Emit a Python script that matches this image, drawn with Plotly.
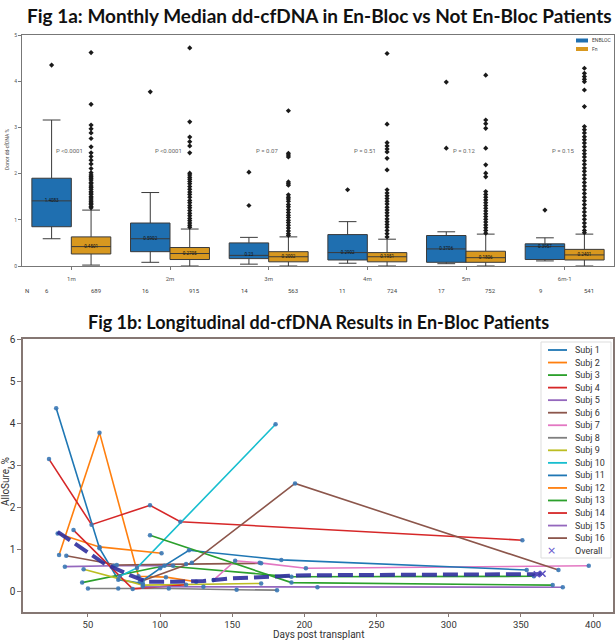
import plotly.graph_objects as go

W, H = 616, 640


def fx(p):
    return p / W


def fy(p):
    return 1 - p / H


# ---------------- Fig 1a data ----------------
months = ["1m", "2m", "3m", "4m", "5m", "6m-1"]

enbloc_q1 = [0.85, 0.31, 0.16, 0.13, 0.08, 0.14]
enbloc_med = [1.41, 0.59, 0.23, 0.29, 0.37, 0.42]
enbloc_q3 = [1.90, 0.93, 0.50, 0.68, 0.66, 0.48]
enbloc_lo = [0.59, 0.08, 0.04, 0.06, 0.05, 0.11]
enbloc_hi = [3.16, 1.59, 0.62, 0.96, 0.74, 0.61]
enbloc_lbl = ["1.4083", "0.5902", "0.23", "0.2902", "0.3706", "0.3957"]
enbloc_n = [6, 16, 14, 11, 17, 9]

fn_q1 = [0.26, 0.14, 0.09, 0.09, 0.08, 0.13]
fn_med = [0.42, 0.27, 0.20, 0.20, 0.18, 0.24]
fn_q3 = [0.63, 0.40, 0.31, 0.29, 0.32, 0.36]
fn_lo = [0.02, 0.0, 0.0, 0.0, 0.0, 0.0]
fn_hi = [1.21, 0.80, 0.63, 0.58, 0.69, 0.69]
fn_lbl = ["0.4501", "0.2705", "0.2002", "0.1951", "0.1806", "0.2401"]
fn_n = [689, 915, 563, 724, 752, 541]

p_values = ["P <0.0001", "P <0.0001", "P = 0.07", "P = 0.51", "P = 0.12", "P = 0.15"]

enbloc_out_1m = [4.35]
enbloc_out_2m = [3.77]
enbloc_out_3m = [2.03, 1.31]
enbloc_out_4m = [1.65]
enbloc_out_5m = [3.98, 2.55]
enbloc_out_6m = [1.21]

fn_out_1m = [4.62, 3.50, 3.05, 2.97, 2.88, 2.76, 2.58, 2.45, 2.37, 2.29, 2.21, 2.11, 2.02,
             1.97, 1.93, 1.90, 1.86, 1.81, 1.78, 1.73, 1.70, 1.66, 1.61, 1.58, 1.55, 1.50,
             1.47, 1.43, 1.39, 1.36, 1.33, 1.29, 1.26]
fn_out_2m = [4.72, 3.12, 2.79, 2.69, 2.60, 2.45, 2.01, 1.97, 1.92, 1.88, 1.83, 1.78, 1.72,
             1.66, 1.60, 1.55, 1.49, 1.42, 1.37, 1.31, 1.26, 1.20, 1.14, 1.09, 1.03, 0.98,
             0.93, 0.88, 0.84]
fn_out_3m = [3.36, 2.44, 2.40, 2.36, 1.82, 1.78, 1.75, 1.54, 1.49, 1.45, 1.40, 1.33, 1.28,
             1.22, 1.16, 1.10, 1.05, 0.99, 0.94, 0.88, 0.82, 0.76, 0.70, 0.66]
fn_out_4m = [4.60, 3.07, 2.67, 2.60, 2.53, 2.47, 2.33, 2.08, 1.65, 1.58, 1.52, 1.46, 1.40,
             1.34, 1.27, 1.21, 1.15, 1.09, 1.02, 0.96, 0.90, 0.84, 0.77, 0.70, 0.63]
fn_out_5m = [4.13, 3.16, 3.08, 2.98, 2.55, 2.19, 2.01, 1.93, 1.61, 1.55, 1.49, 1.43, 1.37,
             1.31, 1.25, 1.19, 1.13, 1.07, 1.01, 0.95, 0.89, 0.83, 0.77, 0.71]
fn_out_6m = [4.28, 4.17, 4.10, 4.04, 3.99, 3.81, 3.45, 3.02, 2.95, 2.88, 2.80, 2.73, 2.66,
             2.58, 2.50, 2.43, 2.36, 2.28, 2.20, 2.12, 2.05, 1.97, 1.89, 1.81, 1.73, 1.65,
             1.57, 1.49, 1.41, 1.33, 1.25, 1.17, 1.09, 1.01, 0.93, 0.85, 0.77, 0.72]

enbloc_outliers = [enbloc_out_1m, enbloc_out_2m, enbloc_out_3m, enbloc_out_4m, enbloc_out_5m, enbloc_out_6m]
fn_outliers = [fn_out_1m, fn_out_2m, fn_out_3m, fn_out_4m, fn_out_5m, fn_out_6m]

# ---------------- Fig 1b data ----------------
s1_x, s1_y = [28, 58, 71, 88], [4.35, 1.02, 0.27, 0.18]
s2_x, s2_y = [30, 58, 85, 104, 125], [0.86, 3.77, 0.35, 0.33, 0.22]
s3_x, s3_y = [46, 103, 191, 359], [0.20, 0.60, 0.34, 0.35]
s4_x, s4_y = [23, 52.5, 93, 114, 351], [3.14, 1.58, 2.04, 1.65, 1.21]
s5_x, s5_y = [34, 68, 109], [0.58, 0.60, 0.60]
s6_x, s6_y = [35, 70, 118, 170], [0.84, 0.62, 0.64, 0.66]
s7_x, s7_y = [137, 152, 169, 201, 397], [0.26, 0.72, 0.67, 0.54, 0.60]
s8_x, s8_y = [50, 71, 106, 153, 181], [0.06, 0.06, 0.06, 0.03, 0.02]
s9_x, s9_y = [47, 88, 170], [0.52, 0.14, 0.18]
s10_x, s10_y = [72, 84, 180], [0.35, 0.55, 3.97]
s11_x, s11_y = [88, 100, 120, 184, 354], [0.25, 0.54, 0.97, 0.74, 0.50]
s12_x, s12_y = [29, 58, 101], [1.37, 1.05, 0.90]
s13_x, s13_y = [93, 191, 372], [1.33, 0.20, 0.14]
s14_x, s14_y = [40, 81, 118], [1.45, 0.05, 0.15]
s15_x, s15_y = [88, 130, 209, 379], [0.10, 0.10, 0.09, 0.09]
s16_x, s16_y = [86, 122, 193.5, 376], [0.22, 0.67, 2.56, 0.50]

overall_x = [29, 44, 61, 79, 91, 110, 130, 150, 175, 195, 230, 270, 310, 340, 361, 365]
overall_y = [1.41, 1.05, 0.66, 0.38, 0.22, 0.22, 0.24, 0.30, 0.34, 0.37, 0.38, 0.38, 0.38, 0.39, 0.40, 0.41]
overall_mark_x = [361, 365]
overall_mark_y = [0.40, 0.41]

subjects = [(s1_x, s1_y), (s2_x, s2_y), (s3_x, s3_y), (s4_x, s4_y), (s5_x, s5_y), (s6_x, s6_y),
            (s7_x, s7_y), (s8_x, s8_y), (s9_x, s9_y), (s10_x, s10_y), (s11_x, s11_y),
            (s12_x, s12_y), (s13_x, s13_y), (s14_x, s14_y), (s15_x, s15_y), (s16_x, s16_y)]
subj_names = ["Subj %d" % (i + 1) for i in range(16)]
tab10 = ["#1f77b4", "#ff7f0e", "#2ca02c", "#d62728", "#9467bd", "#8c564b", "#e377c2",
         "#7f7f7f", "#bcbd22", "#17becf"]
subj_colors = [tab10[i % 10] for i in range(16)]

BLUE = "#1f6fb0"
ORANGE = "#d8981f"
EDGE = "#3a3a3a"
OFF = 0.2

fig = go.Figure()

# ---------- top: boxes ----------
fig.add_trace(go.Box(x=[i - OFF for i in range(6)], q1=enbloc_q1, median=enbloc_med, q3=enbloc_q3,
                     lowerfence=enbloc_lo, upperfence=enbloc_hi, width=0.4, whiskerwidth=0.45,
                     fillcolor=BLUE, line=dict(color=EDGE, width=1), boxpoints=False,
                     xaxis="x", yaxis="y", hoverinfo="skip"))
fig.add_trace(go.Box(x=[i + OFF for i in range(6)], q1=fn_q1, median=fn_med, q3=fn_q3,
                     lowerfence=fn_lo, upperfence=fn_hi, width=0.4, whiskerwidth=0.45,
                     fillcolor=ORANGE, line=dict(color=EDGE, width=1), boxpoints=False,
                     xaxis="x", yaxis="y", hoverinfo="skip"))

for i in range(6):
    for pos, outs in ((i - OFF, enbloc_outliers[i]), (i + OFF, fn_outliers[i])):
        fig.add_trace(go.Scatter(x=[pos] * len(outs), y=outs, mode="markers",
                                 marker=dict(symbol="diamond", size=4, color="#1a1a1a"),
                                 xaxis="x", yaxis="y", hoverinfo="skip"))

fig.add_trace(go.Scatter(x=[i - OFF for i in range(6)], y=enbloc_med, text=enbloc_lbl, mode="text",
                         textfont=dict(size=4.5, color="#111", family="Roboto"),
                         xaxis="x", yaxis="y", hoverinfo="skip"))
fig.add_trace(go.Scatter(x=[i + OFF for i in range(6)], y=fn_med, text=fn_lbl, mode="text",
                         textfont=dict(size=4.5, color="#111", family="Roboto"),
                         xaxis="x", yaxis="y", hoverinfo="skip"))

# p-values
for i, p in enumerate(p_values):
    fig.add_annotation(x=i - 0.02, y=2.5, xref="x", yref="y", text=p, showarrow=False,
                       font=dict(size=6, color="#666", family="Roboto"))

# N row
fig.add_annotation(x=fx(23), y=fy(290), xref="paper", yref="paper", text="N", showarrow=False,
                   yanchor="middle", font=dict(size=6, color="#444", family="Roboto"))
for i in range(6):
    fig.add_annotation(x=i - 0.25, y=fy(290), xref="x", yref="paper", text=str(enbloc_n[i]),
                       yanchor="middle", showarrow=False, font=dict(size=6, color="#444", family="Roboto"))
    fig.add_annotation(x=i + 0.25, y=fy(290), xref="x", yref="paper", text=str(fn_n[i]),
                       yanchor="middle", showarrow=False, font=dict(size=6, color="#444", family="Roboto"))

# ---------- bottom: lines ----------
for (xs, ys), c in zip(subjects, subj_colors):
    fig.add_trace(go.Scatter(x=xs, y=ys, mode="lines", line=dict(color=c, width=1.6),
                             xaxis="x2", yaxis="y2", hoverinfo="skip"))
all_x = [d for xs, _ in subjects for d in xs]
all_y = [v for _, ys in subjects for v in ys]
fig.add_trace(go.Scatter(x=all_x, y=all_y, mode="markers",
                         marker=dict(size=4.5, color="#3a78b5", opacity=0.9),
                         xaxis="x2", yaxis="y2", hoverinfo="skip"))
fig.add_trace(go.Scatter(x=overall_x, y=overall_y, mode="lines",
                         line=dict(color="#2f2f9e", width=4, dash="15px,6px"),
                         opacity=0.9, xaxis="x2", yaxis="y2", hoverinfo="skip"))
fig.add_trace(go.Scatter(x=overall_mark_x, y=overall_mark_y, mode="markers",
                         marker=dict(symbol="x-thin", size=6, line=dict(width=1.5, color="#5a4fc0")),
                         xaxis="x2", yaxis="y2", hoverinfo="skip"))

# ---------- titles ----------
fig.add_annotation(x=fx(319), y=fy(15), xref="paper", yref="paper", yanchor="middle",
                   text="<b>Fig 1a: Monthly Median dd-cfDNA in En-Bloc vs Not En-Bloc Patients</b>",
                   showarrow=False, font=dict(size=19, color="#111", family="Lato"))
fig.add_annotation(x=fx(318), y=fy(322), xref="paper", yref="paper", yanchor="middle",
                   text="<b>Fig 1b: Longitudinal dd-cfDNA Results in En-Bloc Patients</b>",
                   showarrow=False, font=dict(size=18, color="#111", family="Lato"))

# axis labels
fig.add_annotation(x=fx(7), y=fy(150), xref="paper", yref="paper", text="Donor dd-cfDNA %",
                   yanchor="middle", xanchor="center",
                   textangle=-90, showarrow=False, font=dict(size=5, color="#444", family="Roboto"))
fig.add_annotation(x=fx(5), y=fy(482), xref="paper", yref="paper", text="AlloSure, %",
                   yanchor="middle", xanchor="center",
                   textangle=-90, showarrow=False, font=dict(size=10, color="#333", family="Roboto"))
fig.add_annotation(x=fx(318), y=fy(634.5), xref="paper", yref="paper", text="Days post transplant",
                   yanchor="middle", showarrow=False, font=dict(size=10, color="#333", family="Roboto"))

# ---------- top legend (manual) ----------
shapes = []
for k, (name, col) in enumerate((("ENBLOC", BLUE), ("Fn", ORANGE))):
    yy = 40.5 + k * 8.5
    shapes.append(dict(type="rect", xref="paper", yref="paper", x0=fx(576), x1=fx(588),
                       y0=fy(yy + 2), y1=fy(yy - 2), fillcolor=col, line=dict(width=0)))
    fig.add_annotation(x=fx(590), y=fy(yy), xref="paper", yref="paper", text=name, xanchor="left",
                       yanchor="middle", showarrow=False, font=dict(size=5, color="#444", family="Roboto"))

# ---------- bottom legend (manual) ----------
shapes.append(dict(type="rect", xref="paper", yref="paper", x0=fx(541), x1=fx(611), y0=fy(558),
                   y1=fy(342), line=dict(color="#dddddd", width=1), fillcolor="rgba(255,255,255,0.8)"))
for k, (name, col) in enumerate(zip(subj_names, subj_colors)):
    yy = 350 + k * 12.54
    shapes.append(dict(type="line", xref="paper", yref="paper", x0=fx(548), x1=fx(567),
                       y0=fy(yy), y1=fy(yy), line=dict(color=col, width=1.8)))
    fig.add_annotation(x=fx(573), y=fy(yy), xref="paper", yref="paper", text=name, xanchor="left",
                       yanchor="middle", showarrow=False, font=dict(size=9, color="#333", family="Roboto"))
yy = 350 + 16 * 12.54
fig.add_annotation(x=fx(557.5), y=fy(yy), xref="paper", yref="paper", text="×", yanchor="middle",
                   showarrow=False, font=dict(size=11, color="#6a5acd", family="DejaVu Sans"))
fig.add_annotation(x=fx(573), y=fy(yy), xref="paper", yref="paper", text="Overall", xanchor="left",
                   yanchor="middle", showarrow=False, font=dict(size=9, color="#333", family="Roboto"))

fig.update_layout(
    width=W, height=H, margin=dict(l=0, r=0, t=0, b=0, autoexpand=False),
    paper_bgcolor="white", plot_bgcolor="white", showlegend=False, shapes=shapes,
    xaxis=dict(domain=[fx(22), fx(614)], range=[-0.5, 5.5], tickvals=list(range(6)), ticktext=months,
               showgrid=False, zeroline=False, showline=True, mirror=True, linecolor="#777",
               linewidth=1, ticks="outside", ticklen=3, tickcolor="#777",
               tickfont=dict(size=6, color="#555", family="Roboto"), ticklabelstandoff=4,
               anchor="y"),
    yaxis=dict(domain=[fy(266), fy(35)], range=[0, 5], tickvals=[0, 1, 2, 3, 4, 5],
               showgrid=False, zeroline=False, showline=True, mirror=True, linecolor="#777",
               linewidth=1, ticks="outside", ticklen=3, tickcolor="#777",
               tickfont=dict(size=5, color="#555", family="Roboto"), anchor="x"),
    xaxis2=dict(domain=[fx(23), fx(613)], range=[5, 413.8], tickvals=[50, 100, 150, 200, 250, 300, 350, 400],
                showgrid=False, zeroline=False, showline=True, mirror=True, linecolor="#857773",
                linewidth=1.5, ticks="outside", ticklen=3, tickcolor="#857773",
                tickfont=dict(size=9.5, color="#333", family="Roboto"), anchor="y2"),
    yaxis2=dict(domain=[fy(612), fy(339)], range=[-0.5, 6], tickvals=[0, 1, 2, 3, 4, 5, 6],
                showgrid=False, zeroline=False, showline=True, mirror=True, linecolor="#857773",
                linewidth=1.5, ticks="outside", ticklen=4, tickcolor="#857773",
                tickfont=dict(size=10, color="#333", family="Roboto"), anchor="x2"),
)

fig.write_html("out.html", config={"displayModeBar": False},
               post_script="document.body.style.margin='0';document.body.style.overflow='hidden';")
